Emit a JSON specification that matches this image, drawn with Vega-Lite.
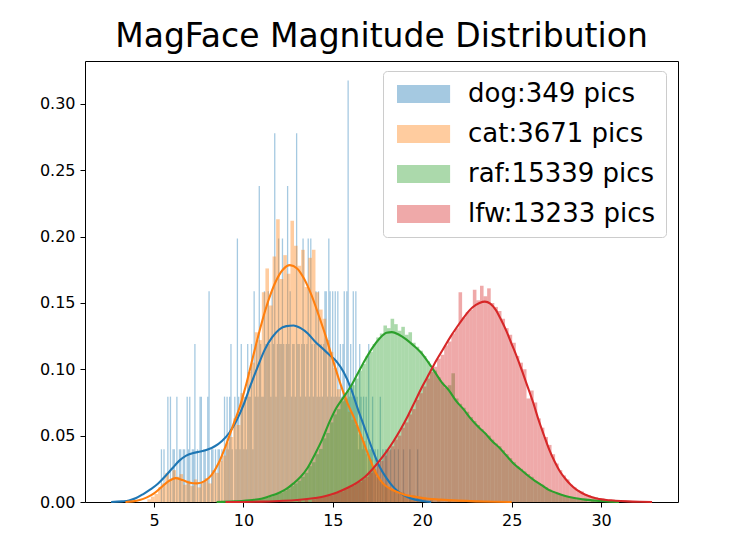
{
  "$schema": "https://vega.github.io/schema/vega-lite/v6.json",
  "width": 593,
  "height": 441,
  "autosize": {"type": "none"},
  "padding": {"left": 85, "top": 61, "right": 66, "bottom": 53},
  "background": "white",
  "title": {"text": "MagFace Magnitude Distribution", "font": "DejaVu Sans", "fontSize": 33, "fontWeight": "normal", "color": "black", "offset": 7},
  "datasets": {
    "dog": [
      {"x":5.35,"y":0.0397},{"x":5.494,"y":0.0397},{"x":5.71,"y":0.0794},{"x":5.854,"y":0.0794},{"x":5.998,"y":0.0397},
      {"x":6.07,"y":0.0397},{"x":6.214,"y":0.0794},{"x":6.358,"y":0.0397},{"x":6.43,"y":0.0397},{"x":6.574,"y":0.0397},
      {"x":6.646,"y":0.0397},{"x":6.79,"y":0.0794},{"x":6.862,"y":0.0397},{"x":6.934,"y":0.0794},{"x":7.078,"y":0.0397},
      {"x":7.15,"y":0.0397},{"x":7.222,"y":0.1191},{"x":7.366,"y":0.0397},{"x":7.51,"y":0.0794},{"x":7.582,"y":0.0794},
      {"x":7.726,"y":0.0397},{"x":7.798,"y":0.0397},{"x":7.942,"y":0.0794},{"x":8.014,"y":0.1588},{"x":8.158,"y":0.0397},
      {"x":8.23,"y":0.0397},{"x":8.374,"y":0.0397},{"x":8.518,"y":0.0397},{"x":8.59,"y":0.0397},{"x":8.734,"y":0.0397},
      {"x":8.878,"y":0.0794},{"x":8.95,"y":0.0397},{"x":9.022,"y":0.0794},{"x":9.094,"y":0.0397},{"x":9.166,"y":0.0794},
      {"x":9.238,"y":0.1191},{"x":9.31,"y":0.0397},{"x":9.454,"y":0.0794},{"x":9.526,"y":0.0397},{"x":9.598,"y":0.1985},
      {"x":9.67,"y":0.0794},{"x":9.742,"y":0.0397},{"x":9.814,"y":0.1191},{"x":9.886,"y":0.0794},{"x":9.958,"y":0.0397},
      {"x":10.03,"y":0.0794},{"x":10.102,"y":0.0397},{"x":10.174,"y":0.1191},{"x":10.246,"y":0.0794},{"x":10.318,"y":0.0794},
      {"x":10.39,"y":0.1191},{"x":10.462,"y":0.0397},{"x":10.534,"y":0.1588},{"x":10.606,"y":0.0794},{"x":10.678,"y":0.1191},
      {"x":10.75,"y":0.0794},{"x":10.822,"y":0.2382},{"x":10.894,"y":0.1191},{"x":10.966,"y":0.0794},{"x":11.038,"y":0.0794},
      {"x":11.11,"y":0.1588},{"x":11.182,"y":0.1191},{"x":11.254,"y":0.1191},{"x":11.326,"y":0.1588},{"x":11.398,"y":0.1191},
      {"x":11.47,"y":0.0794},{"x":11.542,"y":0.1588},{"x":11.614,"y":0.1191},{"x":11.686,"y":0.2779},{"x":11.758,"y":0.0794},
      {"x":11.83,"y":0.1191},{"x":11.902,"y":0.1985},{"x":11.974,"y":0.1191},{"x":12.046,"y":0.1191},{"x":12.118,"y":0.1985},
      {"x":12.19,"y":0.1191},{"x":12.262,"y":0.0794},{"x":12.334,"y":0.1191},{"x":12.406,"y":0.2382},{"x":12.478,"y":0.1191},
      {"x":12.55,"y":0.1588},{"x":12.622,"y":0.0794},{"x":12.694,"y":0.1191},{"x":12.766,"y":0.1191},{"x":12.838,"y":0.0794},
      {"x":12.91,"y":0.2779},{"x":12.982,"y":0.1191},{"x":13.054,"y":0.1191},{"x":13.126,"y":0.0794},{"x":13.198,"y":0.1191},
      {"x":13.27,"y":0.1985},{"x":13.342,"y":0.1191},{"x":13.414,"y":0.0794},{"x":13.486,"y":0.1191},{"x":13.558,"y":0.1985},
      {"x":13.63,"y":0.0794},{"x":13.702,"y":0.1985},{"x":13.774,"y":0.1191},{"x":13.846,"y":0.0794},{"x":13.918,"y":0.1191},
      {"x":13.99,"y":0.1588},{"x":14.062,"y":0.0794},{"x":14.134,"y":0.1588},{"x":14.206,"y":0.0794},{"x":14.278,"y":0.1191},
      {"x":14.35,"y":0.0794},{"x":14.422,"y":0.1191},{"x":14.494,"y":0.1588},{"x":14.566,"y":0.1588},{"x":14.638,"y":0.0794},
      {"x":14.71,"y":0.1985},{"x":14.782,"y":0.1588},{"x":14.854,"y":0.0794},{"x":14.926,"y":0.1588},{"x":14.998,"y":0.0794},
      {"x":15.07,"y":0.1588},{"x":15.142,"y":0.0794},{"x":15.214,"y":0.1588},{"x":15.286,"y":0.0794},{"x":15.358,"y":0.1191},
      {"x":15.43,"y":0.0794},{"x":15.502,"y":0.1191},{"x":15.574,"y":0.1588},{"x":15.646,"y":0.0794},{"x":15.718,"y":0.1588},
      {"x":15.79,"y":0.3176},{"x":15.862,"y":0.0794},{"x":15.934,"y":0.1191},{"x":16.006,"y":0.0794},{"x":16.078,"y":0.1588},
      {"x":16.15,"y":0.0794},{"x":16.222,"y":0.1588},{"x":16.294,"y":0.0794},{"x":16.366,"y":0.0397},{"x":16.438,"y":0.1191},
      {"x":16.51,"y":0.0794},{"x":16.582,"y":0.0397},{"x":16.654,"y":0.0794},{"x":16.726,"y":0.0397},{"x":16.798,"y":0.0794},
      {"x":16.942,"y":0.1191},{"x":17.014,"y":0.0397},{"x":17.086,"y":0.0397},{"x":17.158,"y":0.0794},{"x":17.302,"y":0.0397},
      {"x":17.446,"y":0.0397},{"x":17.59,"y":0.0794},{"x":17.734,"y":0.0397},{"x":17.878,"y":0.0397},{"x":17.95,"y":0.0397},
      {"x":18.166,"y":0.0397},{"x":18.382,"y":0.0397},{"x":18.598,"y":0.0397},{"x":18.886,"y":0.0397},{"x":19.246,"y":0.0397},
      {"x":19.678,"y":0.0397}
    ],
    "cat": [
      {"x":4.6,"y":0.002},{"x":4.8,"y":0.004},{"x":5.0,"y":0.006},{"x":5.2,"y":0.011},{"x":5.4,"y":0.014},
      {"x":5.6,"y":0.022},{"x":5.8,"y":0.017},{"x":6.0,"y":0.024},{"x":6.2,"y":0.019},{"x":6.4,"y":0.021},
      {"x":6.6,"y":0.013},{"x":6.8,"y":0.016},{"x":7.0,"y":0.012},{"x":7.2,"y":0.017},{"x":7.4,"y":0.011},
      {"x":7.6,"y":0.015},{"x":7.8,"y":0.018},{"x":8.0,"y":0.014},{"x":8.2,"y":0.024},{"x":8.4,"y":0.022},
      {"x":8.6,"y":0.031},{"x":8.8,"y":0.035},{"x":9.0,"y":0.045},{"x":9.2,"y":0.049},{"x":9.4,"y":0.063},
      {"x":9.6,"y":0.058},{"x":9.8,"y":0.082},{"x":10.0,"y":0.079},{"x":10.2,"y":0.098},{"x":10.4,"y":0.105},
      {"x":10.6,"y":0.128},{"x":10.8,"y":0.122},{"x":11.0,"y":0.158},{"x":11.2,"y":0.176},{"x":11.4,"y":0.148},
      {"x":11.6,"y":0.185},{"x":11.8,"y":0.213},{"x":12.0,"y":0.168},{"x":12.2,"y":0.186},{"x":12.4,"y":0.172},
      {"x":12.6,"y":0.212},{"x":12.8,"y":0.193},{"x":13.0,"y":0.178},{"x":13.2,"y":0.19},{"x":13.4,"y":0.162},
      {"x":13.6,"y":0.184},{"x":13.8,"y":0.19},{"x":14.0,"y":0.158},{"x":14.2,"y":0.145},{"x":14.4,"y":0.138},
      {"x":14.6,"y":0.122},{"x":14.8,"y":0.113},{"x":15.0,"y":0.101},{"x":15.2,"y":0.085},{"x":15.4,"y":0.078},
      {"x":15.6,"y":0.082},{"x":15.8,"y":0.068},{"x":16.0,"y":0.062},{"x":16.2,"y":0.058},{"x":16.4,"y":0.051},
      {"x":16.6,"y":0.046},{"x":16.8,"y":0.036},{"x":17.0,"y":0.032},{"x":17.2,"y":0.024},{"x":17.4,"y":0.019},
      {"x":17.6,"y":0.015},{"x":17.8,"y":0.013},{"x":18.0,"y":0.011},{"x":18.2,"y":0.009},{"x":18.4,"y":0.008},
      {"x":18.6,"y":0.006},{"x":18.8,"y":0.007},{"x":19.0,"y":0.005},{"x":19.2,"y":0.004},{"x":19.4,"y":0.005},
      {"x":19.6,"y":0.003},{"x":19.8,"y":0.004},{"x":20.0,"y":0.003},{"x":20.4,"y":0.002},{"x":20.8,"y":0.002},
      {"x":21.4,"y":0.0015},{"x":22.0,"y":0.001},{"x":23.0,"y":0.001},{"x":24.0,"y":0.0007}
    ],
    "raf": [
      {"x":10.0,"y":0.001},{"x":10.2,"y":0.001},{"x":10.4,"y":0.0015},{"x":10.6,"y":0.002},{"x":10.8,"y":0.002},
      {"x":11.0,"y":0.0025},{"x":11.2,"y":0.003},{"x":11.4,"y":0.004},{"x":11.6,"y":0.005},{"x":11.8,"y":0.006},
      {"x":12.0,"y":0.007},{"x":12.2,"y":0.0085},{"x":12.4,"y":0.01},{"x":12.6,"y":0.012},{"x":12.8,"y":0.014},
      {"x":13.0,"y":0.016},{"x":13.2,"y":0.019},{"x":13.4,"y":0.022},{"x":13.6,"y":0.027},{"x":13.8,"y":0.03},
      {"x":14.0,"y":0.036},{"x":14.2,"y":0.04},{"x":14.4,"y":0.048},{"x":14.6,"y":0.052},{"x":14.8,"y":0.06},
      {"x":15.0,"y":0.066},{"x":15.2,"y":0.07},{"x":15.4,"y":0.076},{"x":15.6,"y":0.078},{"x":15.8,"y":0.084},
      {"x":16.0,"y":0.088},{"x":16.2,"y":0.093},{"x":16.4,"y":0.099},{"x":16.6,"y":0.104},{"x":16.8,"y":0.11},
      {"x":17.0,"y":0.113},{"x":17.2,"y":0.119},{"x":17.4,"y":0.124},{"x":17.6,"y":0.127},{"x":17.8,"y":0.133},
      {"x":18.0,"y":0.131},{"x":18.2,"y":0.138},{"x":18.4,"y":0.134},{"x":18.6,"y":0.129},{"x":18.8,"y":0.132},
      {"x":19.0,"y":0.126},{"x":19.2,"y":0.128},{"x":19.4,"y":0.12},{"x":19.6,"y":0.117},{"x":19.8,"y":0.114},
      {"x":20.0,"y":0.11},{"x":20.2,"y":0.106},{"x":20.4,"y":0.101},{"x":20.6,"y":0.099},{"x":20.8,"y":0.094},
      {"x":21.0,"y":0.09},{"x":21.2,"y":0.086},{"x":21.4,"y":0.088},{"x":21.6,"y":0.097},{"x":21.8,"y":0.078},
      {"x":22.0,"y":0.074},{"x":22.2,"y":0.071},{"x":22.4,"y":0.068},{"x":22.6,"y":0.064},{"x":22.8,"y":0.061},
      {"x":23.0,"y":0.058},{"x":23.2,"y":0.055},{"x":23.4,"y":0.052},{"x":23.6,"y":0.05},{"x":23.8,"y":0.047},
      {"x":24.0,"y":0.044},{"x":24.2,"y":0.042},{"x":24.4,"y":0.039},{"x":24.6,"y":0.036},{"x":24.8,"y":0.033},
      {"x":25.0,"y":0.03},{"x":25.2,"y":0.027},{"x":25.4,"y":0.025},{"x":25.6,"y":0.023},{"x":25.8,"y":0.021},
      {"x":26.0,"y":0.019},{"x":26.2,"y":0.016},{"x":26.4,"y":0.014},{"x":26.6,"y":0.013},{"x":26.8,"y":0.011},
      {"x":27.0,"y":0.0095},{"x":27.2,"y":0.008},{"x":27.4,"y":0.007},{"x":27.6,"y":0.006},{"x":27.8,"y":0.005},
      {"x":28.0,"y":0.0045},{"x":28.2,"y":0.0038},{"x":28.4,"y":0.003},{"x":28.6,"y":0.0027},{"x":28.8,"y":0.0022},
      {"x":29.0,"y":0.002},{"x":29.4,"y":0.0015},{"x":29.8,"y":0.001},{"x":30.2,"y":0.0007},{"x":30.6,"y":0.0005}
    ],
    "lfw": [
      {"x":13.0,"y":0.001},{"x":13.4,"y":0.0015},{"x":13.8,"y":0.002},{"x":14.0,"y":0.003},{"x":14.2,"y":0.003},
      {"x":14.4,"y":0.004},{"x":14.6,"y":0.0045},{"x":14.8,"y":0.005},{"x":15.0,"y":0.006},{"x":15.2,"y":0.007},
      {"x":15.4,"y":0.008},{"x":15.6,"y":0.0095},{"x":15.8,"y":0.011},{"x":16.0,"y":0.012},{"x":16.2,"y":0.014},
      {"x":16.4,"y":0.015},{"x":16.6,"y":0.017},{"x":16.8,"y":0.019},{"x":17.0,"y":0.022},{"x":17.2,"y":0.025},
      {"x":17.4,"y":0.028},{"x":17.6,"y":0.031},{"x":17.8,"y":0.035},{"x":18.0,"y":0.039},{"x":18.2,"y":0.042},
      {"x":18.4,"y":0.047},{"x":18.6,"y":0.05},{"x":18.8,"y":0.056},{"x":19.0,"y":0.06},{"x":19.2,"y":0.066},
      {"x":19.4,"y":0.07},{"x":19.6,"y":0.077},{"x":19.8,"y":0.082},{"x":20.0,"y":0.087},{"x":20.2,"y":0.093},
      {"x":20.4,"y":0.098},{"x":20.6,"y":0.102},{"x":20.8,"y":0.108},{"x":21.0,"y":0.111},{"x":21.2,"y":0.118},
      {"x":21.4,"y":0.121},{"x":21.6,"y":0.127},{"x":21.8,"y":0.131},{"x":22.0,"y":0.158},{"x":22.2,"y":0.139},
      {"x":22.4,"y":0.143},{"x":22.6,"y":0.145},{"x":22.8,"y":0.16},{"x":23.0,"y":0.152},{"x":23.2,"y":0.163},
      {"x":23.4,"y":0.155},{"x":23.6,"y":0.161},{"x":23.8,"y":0.15},{"x":24.0,"y":0.147},{"x":24.2,"y":0.144},
      {"x":24.4,"y":0.138},{"x":24.6,"y":0.131},{"x":24.8,"y":0.126},{"x":25.0,"y":0.12},{"x":25.2,"y":0.11},
      {"x":25.4,"y":0.105},{"x":25.6,"y":0.1},{"x":25.8,"y":0.078},{"x":26.0,"y":0.084},{"x":26.2,"y":0.075},
      {"x":26.4,"y":0.063},{"x":26.6,"y":0.056},{"x":26.8,"y":0.049},{"x":27.0,"y":0.043},{"x":27.2,"y":0.036},
      {"x":27.4,"y":0.029},{"x":27.6,"y":0.024},{"x":27.8,"y":0.02},{"x":28.0,"y":0.017},{"x":28.2,"y":0.013},
      {"x":28.4,"y":0.011},{"x":28.6,"y":0.009},{"x":28.8,"y":0.008},{"x":29.0,"y":0.006},{"x":29.2,"y":0.005},
      {"x":29.4,"y":0.004},{"x":29.6,"y":0.0035},{"x":29.8,"y":0.003},{"x":30.0,"y":0.0025},{"x":30.4,"y":0.002},
      {"x":30.8,"y":0.0015},{"x":31.2,"y":0.001},{"x":31.8,"y":0.0007},{"x":32.4,"y":0.0005}
    ],
    "kdog": [
      {"x":2.6,"y":0},{"x":3.2,"y":0.0005},{"x":3.6,"y":0.0012},{"x":4.0,"y":0.003},{"x":4.4,"y":0.006},
      {"x":4.8,"y":0.0095},{"x":5.2,"y":0.0135},{"x":5.6,"y":0.019},{"x":6.0,"y":0.025},{"x":6.4,"y":0.031},
      {"x":6.8,"y":0.035},{"x":7.2,"y":0.037},{"x":7.6,"y":0.038},{"x":8.0,"y":0.0395},{"x":8.4,"y":0.042},
      {"x":8.8,"y":0.046},{"x":9.2,"y":0.052},{"x":9.6,"y":0.061},{"x":10.0,"y":0.073},{"x":10.4,"y":0.088},
      {"x":10.8,"y":0.102},{"x":11.2,"y":0.115},{"x":11.6,"y":0.124},{"x":12.0,"y":0.13},{"x":12.4,"y":0.1325},
      {"x":12.8,"y":0.133},{"x":13.2,"y":0.131},{"x":13.6,"y":0.127},{"x":14.0,"y":0.121},{"x":14.4,"y":0.116},
      {"x":14.8,"y":0.111},{"x":15.2,"y":0.106},{"x":15.6,"y":0.098},{"x":16.0,"y":0.086},{"x":16.4,"y":0.07},
      {"x":16.8,"y":0.055},{"x":17.2,"y":0.04},{"x":17.6,"y":0.027},{"x":18.0,"y":0.018},{"x":18.4,"y":0.011},
      {"x":18.8,"y":0.0065},{"x":19.2,"y":0.0035},{"x":19.6,"y":0.0018},{"x":20.0,"y":0.0008},{"x":20.5,"y":0}
    ],
    "kcat": [
      {"x":3.4,"y":0},{"x":3.8,"y":0.0005},{"x":4.2,"y":0.0015},{"x":4.6,"y":0.0035},{"x":5.0,"y":0.0065},
      {"x":5.4,"y":0.011},{"x":5.8,"y":0.0155},{"x":6.2,"y":0.018},{"x":6.6,"y":0.0165},{"x":7.0,"y":0.0145},
      {"x":7.4,"y":0.014},{"x":7.8,"y":0.0155},{"x":8.2,"y":0.02},{"x":8.6,"y":0.029},{"x":9.0,"y":0.042},
      {"x":9.4,"y":0.057},{"x":9.8,"y":0.072},{"x":10.2,"y":0.091},{"x":10.6,"y":0.113},{"x":11.0,"y":0.134},
      {"x":11.4,"y":0.152},{"x":11.8,"y":0.166},{"x":12.2,"y":0.175},{"x":12.6,"y":0.1785},{"x":13.0,"y":0.176},
      {"x":13.4,"y":0.168},{"x":13.8,"y":0.156},{"x":14.2,"y":0.141},{"x":14.6,"y":0.125},{"x":15.0,"y":0.107},
      {"x":15.4,"y":0.09},{"x":15.8,"y":0.075},{"x":16.2,"y":0.063},{"x":16.6,"y":0.049},{"x":17.0,"y":0.035},
      {"x":17.4,"y":0.022},{"x":17.8,"y":0.014},{"x":18.2,"y":0.01},{"x":18.6,"y":0.0075},{"x":19.0,"y":0.0055},
      {"x":19.5,"y":0.0042},{"x":20.0,"y":0.003},{"x":21.0,"y":0.0018},{"x":22.0,"y":0.001},{"x":23.0,"y":0.0005},
      {"x":24.0,"y":0.0002},{"x":25.0,"y":0}
    ],
    "kraf": [
      {"x":8.5,"y":0},{"x":9.5,"y":0.0005},{"x":10.5,"y":0.0015},{"x":11.0,"y":0.0025},{"x":11.5,"y":0.0045},
      {"x":12.0,"y":0.007},{"x":12.4,"y":0.0098},{"x":12.8,"y":0.014},{"x":13.2,"y":0.019},{"x":13.6,"y":0.026},
      {"x":14.0,"y":0.036},{"x":14.4,"y":0.047},{"x":14.8,"y":0.06},{"x":15.2,"y":0.071},{"x":15.6,"y":0.079},
      {"x":16.0,"y":0.087},{"x":16.4,"y":0.097},{"x":16.8,"y":0.107},{"x":17.2,"y":0.116},{"x":17.6,"y":0.123},
      {"x":18.0,"y":0.1275},{"x":18.3,"y":0.128},{"x":18.7,"y":0.126},{"x":19.1,"y":0.1225},{"x":19.5,"y":0.118},
      {"x":19.9,"y":0.113},{"x":20.3,"y":0.106},{"x":20.7,"y":0.098},{"x":21.1,"y":0.09},{"x":21.5,"y":0.084},
      {"x":21.9,"y":0.076},{"x":22.3,"y":0.07},{"x":22.7,"y":0.063},{"x":23.1,"y":0.057},{"x":23.5,"y":0.052},
      {"x":23.9,"y":0.046},{"x":24.3,"y":0.041},{"x":24.7,"y":0.035},{"x":25.1,"y":0.029},{"x":25.5,"y":0.0245},
      {"x":25.9,"y":0.02},{"x":26.3,"y":0.016},{"x":26.7,"y":0.0125},{"x":27.1,"y":0.009},{"x":27.5,"y":0.0068},
      {"x":28.0,"y":0.0045},{"x":28.5,"y":0.003},{"x":29.0,"y":0.002},{"x":29.5,"y":0.0012},{"x":30.0,"y":0.0007},
      {"x":30.5,"y":0.0003},{"x":31.0,"y":0}
    ],
    "klfw": [
      {"x":9.0,"y":0},{"x":11.0,"y":0.0003},{"x":12.0,"y":0.0008},{"x":13.0,"y":0.0015},{"x":14.0,"y":0.003},
      {"x":14.6,"y":0.0045},{"x":15.2,"y":0.007},{"x":15.8,"y":0.0105},{"x":16.4,"y":0.015},{"x":16.8,"y":0.019},
      {"x":17.2,"y":0.0245},{"x":17.6,"y":0.031},{"x":18.0,"y":0.038},{"x":18.4,"y":0.046},{"x":18.8,"y":0.055},
      {"x":19.2,"y":0.065},{"x":19.6,"y":0.076},{"x":20.0,"y":0.087},{"x":20.4,"y":0.097},{"x":20.8,"y":0.107},
      {"x":21.2,"y":0.116},{"x":21.6,"y":0.125},{"x":22.0,"y":0.133},{"x":22.4,"y":0.1405},{"x":22.8,"y":0.1465},
      {"x":23.2,"y":0.15},{"x":23.5,"y":0.151},{"x":23.8,"y":0.1495},{"x":24.1,"y":0.145},{"x":24.4,"y":0.1375},
      {"x":24.7,"y":0.129},{"x":25.0,"y":0.119},{"x":25.3,"y":0.109},{"x":25.6,"y":0.098},{"x":25.9,"y":0.0865},
      {"x":26.2,"y":0.075},{"x":26.5,"y":0.062},{"x":26.8,"y":0.0505},{"x":27.1,"y":0.0395},{"x":27.4,"y":0.0305},
      {"x":27.7,"y":0.023},{"x":28.0,"y":0.0175},{"x":28.3,"y":0.013},{"x":28.6,"y":0.0095},{"x":28.9,"y":0.007},
      {"x":29.3,"y":0.0045},{"x":29.7,"y":0.0028},{"x":30.2,"y":0.0017},{"x":30.8,"y":0.001},{"x":31.5,"y":0.0005},
      {"x":32.2,"y":0.0002},{"x":32.85,"y":0}
    ]
  },
  "encoding": {
    "x": {
      "field": "x", "type": "quantitative",
      "scale": {"domain": [1.14, 34.3], "nice": false, "zero": false},
      "axis": {"values": [5, 10, 15, 20, 25, 30], "format": "d", "title": null}
    },
    "y": {
      "field": "y", "type": "quantitative",
      "scale": {"domain": [0, 0.3323], "nice": false},
      "axis": {"values": [0, 0.05, 0.1, 0.15, 0.2, 0.25, 0.3], "format": ".2f", "title": null}
    }
  },
  "layer": [
    {
      "data": {"name": "dog"},
      "mark": {"type": "bar", "opacity": 0.4, "binSpacing": 0},
      "encoding": {
        "x": {"field": "x", "type": "quantitative", "bin": {"binned": true, "step": 0.072}, "scale": {"domain": [1.14, 34.3], "nice": false, "zero": false}, "axis": {"values": [5, 10, 15, 20, 25, 30], "format": "d", "title": null}},
        "color": {
          "datum": "dog:349 pics", "type": "nominal",
          "scale": {"domain": ["dog:349 pics", "cat:3671 pics", "raf:15339 pics", "lfw:13233 pics"], "range": ["#1f77b4", "#ff7f0e", "#2ca02c", "#d62728"]},
          "legend": {
            "orient": "none", "legendX": 298, "legendY": 10, "title": null,
            "symbolType": "M-1,-1H4.9V1H-1Z", "symbolSize": 324, "symbolOpacity": 0.4, "symbolStrokeWidth": 0,
            "labelFont": "DejaVu Sans", "labelFontSize": 26, "labelColor": "black", "labelOffset": 49, "labelLimit": 400,
            "rowPadding": 14, "padding": 10, "fillColor": "rgba(255,255,255,0.8)", "strokeColor": "#cccccc", "cornerRadius": 4
          }
        }
      }
    },
    {
      "data": {"name": "cat"},
      "mark": {"type": "bar", "opacity": 0.4, "binSpacing": 0},
      "encoding": {
        "x": {"field": "x", "type": "quantitative", "bin": {"binned": true, "step": 0.2}, "scale": {"domain": [1.14, 34.3], "nice": false, "zero": false}, "axis": {"values": [5, 10, 15, 20, 25, 30], "format": "d", "title": null}},
        "color": {"datum": "cat:3671 pics", "type": "nominal"}
      }
    },
    {
      "data": {"name": "raf"},
      "mark": {"type": "bar", "opacity": 0.4, "binSpacing": 0},
      "encoding": {
        "x": {"field": "x", "type": "quantitative", "bin": {"binned": true, "step": 0.2}, "scale": {"domain": [1.14, 34.3], "nice": false, "zero": false}, "axis": {"values": [5, 10, 15, 20, 25, 30], "format": "d", "title": null}},
        "color": {"datum": "raf:15339 pics", "type": "nominal"}
      }
    },
    {
      "data": {"name": "lfw"},
      "mark": {"type": "bar", "opacity": 0.4, "binSpacing": 0},
      "encoding": {
        "x": {"field": "x", "type": "quantitative", "bin": {"binned": true, "step": 0.2}, "scale": {"domain": [1.14, 34.3], "nice": false, "zero": false}, "axis": {"values": [5, 10, 15, 20, 25, 30], "format": "d", "title": null}},
        "color": {"datum": "lfw:13233 pics", "type": "nominal"}
      }
    },
    {"data": {"name": "kdog"}, "mark": {"type": "line", "color": "#1f77b4", "strokeWidth": 2.1, "interpolate": "monotone"}},
    {"data": {"name": "kcat"}, "mark": {"type": "line", "color": "#ff7f0e", "strokeWidth": 2.1, "interpolate": "monotone"}},
    {"data": {"name": "kraf"}, "mark": {"type": "line", "color": "#2ca02c", "strokeWidth": 2.1, "interpolate": "monotone"}},
    {"data": {"name": "klfw"}, "mark": {"type": "line", "color": "#d62728", "strokeWidth": 2.1, "interpolate": "monotone"}}
  ],
  "config": {
    "view": {"stroke": "black", "strokeWidth": 1},
    "axis": {
      "domain": false, "grid": false, "tickColor": "black", "tickSize": 5, "tickWidth": 1,
      "labelFont": "DejaVu Sans", "labelFontSize": 16, "labelColor": "black", "labelPadding": 5
    }
  }
}
